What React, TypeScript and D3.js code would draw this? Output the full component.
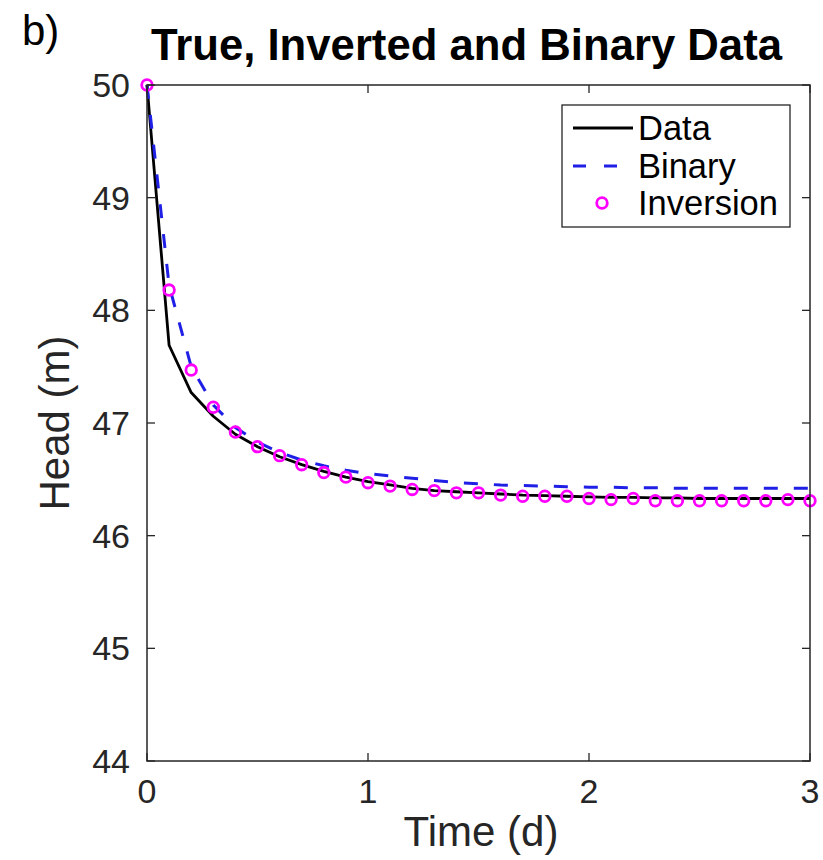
import React from "react";
import * as d3 from "d3";

const timeDays = [0, 0.1, 0.2, 0.3, 0.4, 0.5, 0.6, 0.7, 0.8, 0.9, 1.0, 1.1, 1.2, 1.3, 1.4, 1.5, 1.6, 1.7, 1.8, 1.9, 2.0, 2.1, 2.2, 2.3, 2.4, 2.5, 2.6, 2.7, 2.8, 2.9, 3.0];
const dataHead = [50, 47.69, 47.27, 47.06, 46.9, 46.79, 46.7, 46.63, 46.57, 46.52, 46.48, 46.45, 46.42, 46.4, 46.39, 46.38, 46.37, 46.36, 46.355, 46.35, 46.345, 46.34, 46.34, 46.335, 46.335, 46.33, 46.33, 46.33, 46.33, 46.33, 46.33];
const binaryHead = [50, 48.22, 47.5, 47.16, 46.96, 46.83, 46.74, 46.67, 46.62, 46.58, 46.55, 46.53, 46.51, 46.49, 46.47, 46.46, 46.45, 46.445, 46.44, 46.435, 46.43, 46.43, 46.425, 46.425, 46.42, 46.42, 46.42, 46.42, 46.42, 46.42, 46.42];
const inversionHead = [50, 48.18, 47.47, 47.14, 46.92, 46.79, 46.71, 46.63, 46.56, 46.52, 46.47, 46.44, 46.41, 46.4, 46.38, 46.38, 46.36, 46.35, 46.35, 46.35, 46.33, 46.32, 46.33, 46.31, 46.31, 46.31, 46.31, 46.31, 46.31, 46.32, 46.31];
const xTicks = [0, 1, 2, 3];
const yTicks = [44, 45, 46, 47, 48, 49, 50];
const legendLabels = ["Data", "Binary", "Inversion"];

const FONT = "'Liberation Sans', Arial, Helvetica, sans-serif";
const AX = "#262626";

export default function App() {
  const left = 147, right = 810, top = 85, bottom = 761;
  const x = d3.scaleLinear().domain([0, 3]).range([left, right]);
  const y = d3.scaleLinear().domain([44, 50]).range([bottom, top]);
  const line = d3.line<number>().x((_, i) => x(timeDays[i])).y((v) => y(v));
  const tl = 8;

  const lx = 562, ly = 105, lw = 228, lh = 122;
  const rows = [128, 166, 203];

  return (
    <svg width={823} height={860} style={{ position: "absolute", left: 0, top: 0, background: "#fff" }}>
      <rect x={0} y={0} width={823} height={860} fill="#fff" />
      <text x={22} y={45} fontFamily={FONT} fontSize={42} fill="#000">b)</text>
      <text x={151} y={60} fontFamily={FONT} fontSize={43.5} fontWeight="bold" fill="#000" textLength={631} lengthAdjust="spacingAndGlyphs">True, Inverted and Binary Data</text>

      {/* data lines */}
      <path d={line(dataHead) || ""} fill="none" stroke="#000" strokeWidth={2.8} strokeLinejoin="round" />
      <path d={line(binaryHead) || ""} fill="none" stroke="#1f1fe6" strokeWidth={3} strokeDasharray="14,16" />
      {inversionHead.map((v, i) => (
        <circle key={i} cx={x(timeDays[i])} cy={y(v)} r={5.3} fill="none" stroke="#ff00ff" strokeWidth={2.8} />
      ))}

      {/* axes box */}
      <rect x={left} y={top} width={right - left} height={bottom - top} fill="none" stroke={AX} strokeWidth={1.5} />
      {xTicks.map((t) => (
        <g key={"x" + t}>
          <line x1={x(t)} x2={x(t)} y1={bottom} y2={bottom - tl} stroke={AX} strokeWidth={1.3} />
          <line x1={x(t)} x2={x(t)} y1={top} y2={top + tl} stroke={AX} strokeWidth={1.3} />
          <text x={x(t)} y={803} textAnchor="middle" fontFamily={FONT} fontSize={34} fill={AX}>{t}</text>
        </g>
      ))}
      {yTicks.map((t) => (
        <g key={"y" + t}>
          <line x1={left} x2={left + tl} y1={y(t)} y2={y(t)} stroke={AX} strokeWidth={1.3} />
          <line x1={right} x2={right - tl} y1={y(t)} y2={y(t)} stroke={AX} strokeWidth={1.3} />
          <text x={130} y={y(t) + 12} textAnchor="end" fontFamily={FONT} fontSize={34} fill={AX}>{t}</text>
        </g>
      ))}
      <text x={481} y={846} textAnchor="middle" fontFamily={FONT} fontSize={42} fill={AX}>Time (d)</text>
      <text transform={`translate(69,${(top + bottom) / 2}) rotate(-90)`} textAnchor="middle" fontFamily={FONT} fontSize={42} fill={AX}>Head (m)</text>

      {/* legend */}
      <rect x={lx} y={ly} width={lw} height={lh} fill="#fff" stroke={AX} strokeWidth={1.3} />
      <line x1={573} x2={633} y1={rows[0]} y2={rows[0]} stroke="#000" strokeWidth={2.8} />
      <line x1={573} x2={633} y1={rows[1]} y2={rows[1]} stroke="#1f1fe6" strokeWidth={3} strokeDasharray="13,18" />
      <circle cx={602} cy={rows[2]} r={5.3} fill="none" stroke="#ff00ff" strokeWidth={2.8} />
      {legendLabels.map((l, i) => (
        <text key={l} x={638} y={rows[i] + 12} fontFamily={FONT} fontSize={34.5} fill="#000">{l}</text>
      ))}
    </svg>
  );
}
